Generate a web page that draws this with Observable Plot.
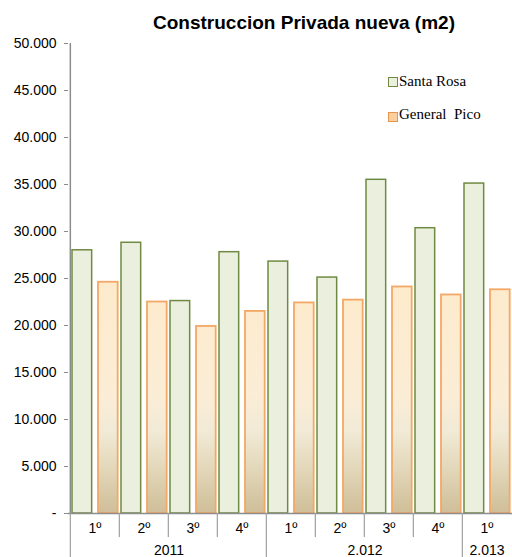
<!DOCTYPE html>
<html>
<head>
<meta charset="utf-8">
<script src="https://cdn.jsdelivr.net/npm/d3@7"></script>
<script src="https://cdn.jsdelivr.net/npm/@observablehq/plot@0.6"></script>
<style>
  html, body { margin: 0; padding: 0; background: #fff; }
  #wrap { position: relative; width: 512px; height: 557px; overflow: hidden; }
  #title { position: absolute; top: 13px; left: 304px; transform: translateX(-50%); white-space: nowrap;
           font: bold 19px/19px "Liberation Sans", Arial, sans-serif; color: #000; }
  .lg-sw { position: absolute; width: 8px; height: 8px; }
  .lg-tx { position: absolute; font: 15px/15px "Liberation Serif", "Times New Roman", serif; color: #000; white-space: pre; }
  #chart svg text { fill: #000; }
</style>
</head>
<body>
<div id="wrap">
  <div id="chart"></div>
  <div id="title">Construccion Privada nueva (m2)</div>
  <div id="legend"></div>
</div>
<script>
// ---- data ----
const quarters = ["1º", "2º", "3º", "4º", "1º", "2º", "3º", "4º", "1º"];
const years = ["2011", "2011", "2011", "2011", "2.012", "2.012", "2.012", "2.012", "2.013"];
const santaRosa = [28000, 28800, 22600, 27800, 26800, 25100, 35500, 30350, 35100];
const generalPico = [24600, 22500, 19900, 21500, 22400, 22700, 24100, 23250, 23800];
const seriesNames = ["Santa Rosa", "General  Pico"];
const yTicks = [0, 5000, 10000, 15000, 20000, 25000, 30000, 35000, 40000, 45000, 50000];

// ---- derived table ----
const keys = quarters.map((q, i) => years[i] + " " + q);
const rows = keys.map((k, i) => ({key: k, quarter: quarters[i], year: years[i], sr: santaRosa[i], gp: generalPico[i]}));
const yearGroups = [];
years.forEach((y, i) => {
  const last = yearGroups[yearGroups.length - 1];
  if (last && last.label === y) last.keys.push(keys[i]);
  else yearGroups.push({label: y, keys: [keys[i]]});
});
const yearStarts = yearGroups.map(g => g.keys[0]);
const innerKeys = keys.filter(k => !yearStarts.includes(k));

const W = 512, H = 557, ML = 68, MR = 0, MT = 43, MB = 44;
const step = (W - ML - MR) / keys.length;

const fmt = d => d === 0 ? "-" : d3.format(",")(d).replace(/,/g, ".");

const plot = Plot.plot({
  width: W,
  height: H,
  marginLeft: ML,
  marginRight: MR,
  marginTop: MT,
  marginBottom: MB,
  style: {fontFamily: "'Liberation Sans', Arial, sans-serif", fontSize: "14px", color: "#8c8c8c", background: "#fff"},
  x: {type: "band", domain: keys, padding: 0, axis: null},
  y: {domain: [0, 50000], ticks: yTicks, tickFormat: fmt, tickSize: 4, tickPadding: 8, label: null},
  marks: [
    // bars
    Plot.barY(rows, {x: "key", y: "sr", insetLeft: 2, insetRight: step - 22, fill: "#EBF0DE", stroke: "#6F8A42", strokeWidth: 1.5}),
    Plot.barY(rows, {x: "key", y: "gp", insetLeft: 28, insetRight: step - 48, fill: "url(#gpGrad)", stroke: "#F5A765", strokeWidth: 1.8}),
    // axes lines
    Plot.ruleY([0], {stroke: "#8c8c8c", strokeWidth: 1.5}),
    Plot.ruleX([keys[0]], {x: d => d, dx: -step / 2, stroke: "#8c8c8c", strokeWidth: 1.5}),
    // category separators
    Plot.ruleX(innerKeys, {x: d => d, dx: -step / 2, y1: 0, y2: 0, insetBottom: -24, stroke: "#a0a0a0", strokeWidth: 1.2}),
    Plot.ruleX(yearStarts, {x: d => d, dx: -step / 2, y1: 0, y2: 0, insetBottom: -MB, stroke: "#a0a0a0", strokeWidth: 1.2}),
    // quarter labels
    Plot.text(rows, {x: "key", text: "quarter", frameAnchor: "bottom", lineAnchor: "middle", dy: 15, fill: "#000"}),
    // year labels
    ...yearGroups.map(g => Plot.text([g.label], {
      x: () => g.keys[0], text: d => d, frameAnchor: "bottom", lineAnchor: "middle", dy: 37,
      dx: (g.keys.length - 1) * step / 2, fill: "#000"
    }))
  ]
});

// gradient for General Pico bars (in plot coordinates)
const ys = plot.scale("y");
const ns = "http://www.w3.org/2000/svg";
const defs = document.createElementNS(ns, "defs");
const lg = document.createElementNS(ns, "linearGradient");
lg.setAttribute("id", "gpGrad");
lg.setAttribute("gradientUnits", "userSpaceOnUse");
lg.setAttribute("x1", 0); lg.setAttribute("x2", 0);
lg.setAttribute("y1", ys.apply(25000)); lg.setAttribute("y2", ys.apply(0));
[[0, "#FDEACB"], [0.5, "#FBEDD6"], [0.65, "#F1EAD6"], [0.82, "#E2D6B8"], [1, "#CFBE98"]].forEach(([o, c]) => {
  const s = document.createElementNS(ns, "stop");
  s.setAttribute("offset", o); s.setAttribute("stop-color", c);
  lg.appendChild(s);
});
defs.appendChild(lg);
plot.insertBefore(defs, plot.firstChild);
document.getElementById("chart").appendChild(plot);

// legend
const legend = document.getElementById("legend");
const lgItems = [
  {name: seriesNames[0], fill: "#EBF0DE", stroke: "#6F8A42", top: 77, ttop: 74},
  {name: seriesNames[1], fill: "#F9CFA0", stroke: "#E8944A", top: 112, ttop: 107}
];
lgItems.forEach(it => {
  const sw = document.createElement("div");
  sw.className = "lg-sw";
  sw.style.left = "388px"; sw.style.top = it.top + "px";
  sw.style.background = it.fill; sw.style.border = "1px solid " + it.stroke;
  legend.appendChild(sw);
  const tx = document.createElement("div");
  tx.className = "lg-tx";
  tx.style.left = "399px"; tx.style.top = it.ttop + "px";
  tx.textContent = it.name;
  legend.appendChild(tx);
});
</script>
</body>
</html>
